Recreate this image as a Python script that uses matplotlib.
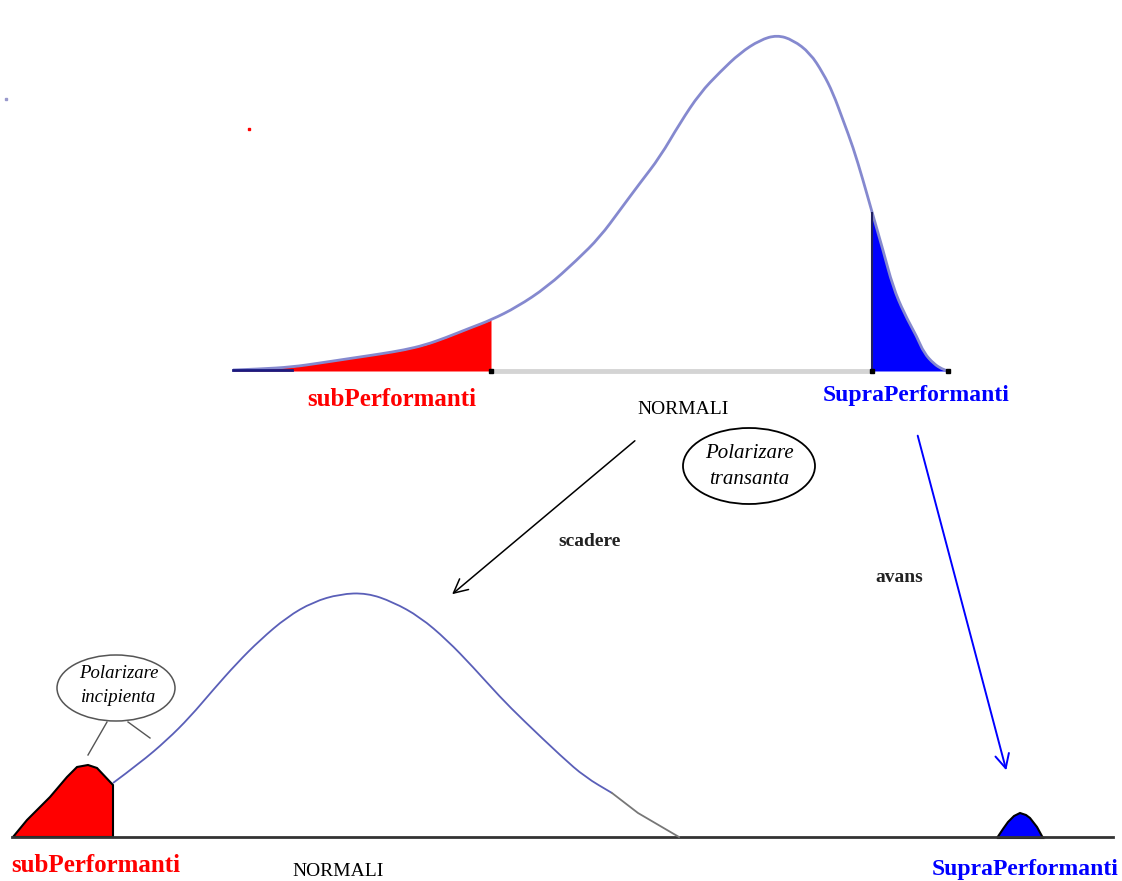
import matplotlib

matplotlib.use("Agg")
import matplotlib.pyplot as plt
from matplotlib.patches import Ellipse, PathPatch
from matplotlib.path import Path
import numpy as np

# Diagram drawn in picture pixel coordinates (x right, y down).
W, H = 1122, 881

# Upper (skewed) distribution
top_x = [233, 260, 292, 320, 353, 380, 404, 425, 445, 470, 491, 517, 547, 577,
         600, 620, 640, 660, 680, 700, 720, 740, 760, 777, 793, 810, 823, 833,
         843, 853, 863, 872, 883, 893, 904, 917, 924, 934, 942, 948]
top_y = [370, 369, 367, 363, 358, 354, 350, 345, 338, 328, 320, 307, 287, 260,
         237, 210, 183, 157, 123, 93, 72, 53, 40, 35, 40, 53, 73, 93,
         120, 147, 180, 212, 250, 287, 313, 337, 353, 364, 369, 371]
top_base = 371
top_low_cut = 491    # end of "subPerformanti" tail
top_high_cut = 872   # start of "SupraPerformanti" tail

# Lower (normal-ish) distribution after polarisation
low_x = [113, 140, 167, 190, 213, 237, 260, 287, 313, 340, 367, 393, 420, 447,
         473, 500, 523, 562, 585, 612, 638, 679]
low_y = [783, 763, 740, 717, 690, 663, 640, 617, 602, 594, 593, 602, 617, 640,
         667, 697, 720, 757, 777, 793, 813, 837]
low_base = 837

# Small groups split off at the extremes
sub_x = [13, 27, 50, 67, 77, 88, 97, 113, 113]
sub_y = [837, 820, 797, 777, 767, 765, 768, 785, 837]
supra_x = [997, 1003, 1008, 1014, 1020, 1026, 1030, 1037, 1043]
supra_y = [838, 829, 822, 816, 813, 815, 818, 827, 838]


def smooth_line(ax, xs, ys, **kw):
    """Draw a line through the read points as quadratic Bezier pieces so
    the corners of the polyline are rounded off."""
    pts = np.column_stack([xs, ys]).astype(float)
    verts = [pts[0]]
    codes = [Path.MOVETO]
    for i in range(1, len(pts) - 1):
        mid = (pts[i] + pts[i + 1]) / 2
        verts += [pts[i], mid]
        codes += [Path.CURVE3, Path.CURVE3]
    verts.append(pts[-1])
    codes.append(Path.LINETO)
    ax.add_patch(PathPatch(Path(verts, codes), fill=False, **kw))


fig = plt.figure(figsize=(W / 100, H / 100), dpi=100)
ax = fig.add_axes([0, 0, 1, 1])
ax.set_xlim(0, W)
ax.set_ylim(H, 0)
ax.axis("off")

curve_col = "#8589cf"
serif = ["Liberation Serif", "DejaVu Serif"]

# --- upper curve ---
tx = np.array(top_x, dtype=float)
ty = np.array(top_y, dtype=float)
ax.fill_between(tx, ty, top_base, where=tx <= top_low_cut, color="red", lw=0)
ax.fill_between(tx, ty, top_base, where=tx >= top_high_cut, color="blue", lw=0)
ax.plot([top_low_cut, top_high_cut], [top_base, top_base], color="#d4d4d4", lw=3.5)
smooth_line(ax, tx, ty, ec=curve_col, lw=2)
ax.plot([233, 292], [top_base - 1, top_base - 1], color="#1a1a80", lw=2)
ax.plot([top_high_cut, top_high_cut], [top_base, 213], color="#202060", lw=1.5)
ax.plot([top_low_cut, top_high_cut, 948], [top_base] * 3, "s", color="black", ms=3.5)

# --- lower curve ---
ax.plot([12, 1113], [low_base, low_base], color="#333333", lw=2)
smooth_line(ax, low_x[:-2], low_y[:-2], ec="#5a5fb8", lw=1.3)
ax.plot(low_x[-3:], low_y[-3:], color="#777777", lw=1.3)
ax.fill(sub_x, sub_y, color="red", ec="black", lw=1.5)
ax.fill(supra_x, supra_y, color="blue", ec="black", lw=1.5)

# --- arrows ---
ax.annotate("", xy=(450, 596), xytext=(637, 439),
            arrowprops=dict(arrowstyle="->", color="black", lw=1.1,
                            mutation_scale=25))
ax.annotate("", xy=(1007, 773), xytext=(917, 433),
            arrowprops=dict(arrowstyle="->", color="blue", lw=1.4,
                            mutation_scale=25))

# --- callouts ---
ax.add_patch(Ellipse((749, 466), 132, 76, fill=False, ec="black", lw=1.3))
ax.text(749, 453, "Polarizare", ha="center", va="center", fontsize=15,
        style="italic", family=serif)
ax.text(749, 480, "transanta", ha="center", va="center", fontsize=15,
        style="italic", family=serif)

ax.add_patch(Ellipse((116, 688), 118, 66, fill=False, ec="#555555", lw=1.1))
ax.text(119, 673, "Polarizare", ha="center", va="center", fontsize=13.5,
        style="italic", family=serif)
ax.text(119, 697, "incipienta", ha="center", va="center", fontsize=13.5,
        style="italic", family=serif)
ax.plot([107, 88], [722, 755], color="#555555", lw=1)
ax.plot([128, 150], [722, 738], color="#555555", lw=1)

# --- labels ---
ax.text(392, 400, "subPerformanti", ha="center", va="center", fontsize=18,
        weight="bold", color="red", family=serif)
ax.text(916, 396, "SupraPerformanti", ha="center", va="center", fontsize=17,
        weight="bold", color="blue", family=serif)
ax.text(683, 409, "NORMALI", ha="center", va="center", fontsize=14,
        family=serif)
ax.text(96, 865, "subPerformanti", ha="center", va="center", fontsize=18,
        weight="bold", color="red", family=serif)
ax.text(1025, 869, "SupraPerformanti", ha="center", va="center", fontsize=17,
        weight="bold", color="blue", family=serif)
ax.text(338, 872, "NORMALI", ha="center", va="center", fontsize=14,
        family=serif)
ax.text(590, 541, "scadere", ha="center", va="center", fontsize=14,
        weight="bold", color="#222222", family=serif)
ax.text(899, 577, "avans", ha="center", va="center", fontsize=14,
        weight="bold", color="#222222", family=serif)

# stray specks in the original scan
ax.plot([249], [129], "s", color="red", ms=1.5)
ax.plot([6], [99], "s", color="#9999cc", ms=1.5)

fig.savefig("out.png", dpi=100)
